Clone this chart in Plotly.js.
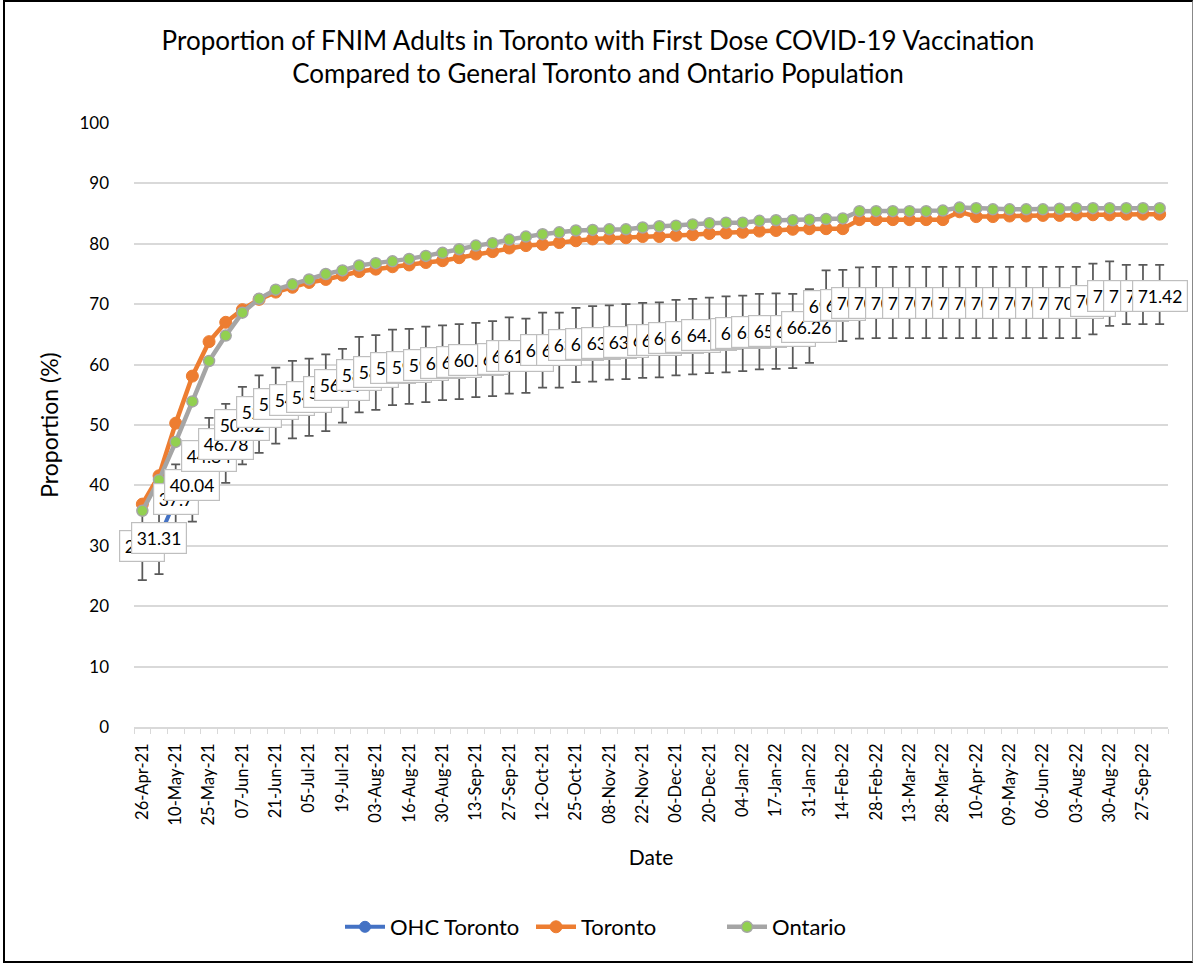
<!DOCTYPE html>
<html>
<head>
<meta charset="utf-8">
<script src="https://cdn.plot.ly/plotly-3.0.1.min.js"></script>
<style>
  html, body { margin: 0; padding: 0; background: #ffffff; }
  #wrap { position: relative; width: 1196px; height: 965px; }
  #chart { position: absolute; left: 0; top: 0; width: 1196px; height: 965px; }
  #frame { position: absolute; left: 3px; top: 0px; width: 1190px; height: 963px;
           border-top: 2px solid #000; border-left: 2px solid #000; border-bottom: 2px solid #000;
           border-right: 1px solid #888; box-sizing: border-box; pointer-events: none; }
</style>
</head>
<body>
<div id="wrap"><div id="chart"></div><div id="frame"></div></div>
<script>
// Dates (every other one is shown as a tick label)
const categories = [
  "26-Apr-21","03-May-21","10-May-21","17-May-21","25-May-21","31-May-21","07-Jun-21","14-Jun-21",
  "21-Jun-21","28-Jun-21","05-Jul-21","12-Jul-21","19-Jul-21","26-Jul-21","03-Aug-21","09-Aug-21",
  "16-Aug-21","23-Aug-21","30-Aug-21","07-Sep-21","13-Sep-21","20-Sep-21","27-Sep-21","04-Oct-21",
  "12-Oct-21","18-Oct-21","25-Oct-21","01-Nov-21","08-Nov-21","15-Nov-21","22-Nov-21","29-Nov-21",
  "06-Dec-21","13-Dec-21","20-Dec-21","29-Dec-21","04-Jan-22","10-Jan-22","17-Jan-22","24-Jan-22",
  "31-Jan-22","07-Feb-22","14-Feb-22","22-Feb-22","28-Feb-22","07-Mar-22","13-Mar-22","21-Mar-22",
  "28-Mar-22","04-Apr-22","10-Apr-22","25-Apr-22","09-May-22","23-May-22","06-Jun-22","04-Jul-22",
  "03-Aug-22","16-Aug-22","30-Aug-22","13-Sep-22","27-Sep-22","11-Oct-22"
];

// OHC Toronto (FNIM adults) first-dose proportion (%)
const ohcToronto = [
  29.9, 31.31, 37.7, 40.04, 44.84, 46.78, 50.02, 52.1, 53.4, 54.2,
  54.7, 55.4, 56.57, 58.3, 58.7, 59.4, 59.6, 59.9, 60.3, 60.5,
  60.75, 61.0, 61.5, 61.45, 62.4, 62.4, 63.25, 63.45, 63.65, 63.8,
  64.0, 64.1, 64.45, 64.65, 64.85, 65.0, 65.15, 65.45, 65.55, 65.6,
  66.26, 69.7, 69.8, 70.15, 70.25, 70.25, 70.25, 70.25, 70.25, 70.25,
  70.25, 70.25, 70.25, 70.25, 70.25, 70.25, 70.25, 70.6, 71.3, 71.4,
  71.4, 71.42
];
// Upper and lower bounds of the OHC Toronto error bars (%)
const ohcUpper = [
  35.5, 37.0, 43.5, 46.2, 51.2, 53.5, 56.3, 58.2, 59.5, 60.6,
  61.0, 61.7, 62.6, 64.6, 64.9, 65.8, 65.9, 66.3, 66.5, 66.7,
  66.9, 67.2, 67.8, 67.6, 68.6, 68.6, 69.4, 69.7, 69.8, 70.0,
  70.2, 70.3, 70.7, 70.9, 71.1, 71.3, 71.4, 71.7, 71.8, 71.7,
  72.5, 75.6, 75.7, 76.1, 76.2, 76.2, 76.2, 76.2, 76.2, 76.2,
  76.2, 76.2, 76.2, 76.2, 76.2, 76.2, 76.2, 76.7, 77.1, 76.5,
  76.5, 76.5
];
const ohcLower = [
  24.3, 25.3, 32.3, 34.0, 38.5, 40.4, 43.5, 45.4, 46.9, 47.8,
  48.2, 49.0, 50.4, 52.1, 52.5, 53.3, 53.5, 53.8, 54.1, 54.3,
  54.6, 54.8, 55.2, 55.3, 56.2, 56.2, 57.1, 57.2, 57.5, 57.6,
  57.8, 57.9, 58.2, 58.4, 58.6, 58.7, 58.9, 59.2, 59.3, 59.4,
  60.3, 63.9, 63.9, 64.3, 64.4, 64.4, 64.4, 64.4, 64.4, 64.4,
  64.4, 64.4, 64.4, 64.4, 64.4, 64.4, 64.4, 65.0, 66.4, 66.7,
  66.7, 66.7
];

// General Toronto population (%)
const toronto = [
  36.9, 41.6, 50.3, 58.1, 63.8, 67.0, 69.1, 70.8, 72.0, 72.8,
  73.6, 74.1, 74.8, 75.4, 75.8, 76.2, 76.5, 76.9, 77.2, 77.7,
  78.3, 78.7, 79.3, 79.7, 79.9, 80.2, 80.5, 80.8, 80.9, 81.0,
  81.2, 81.2, 81.4, 81.5, 81.7, 81.8, 81.9, 82.1, 82.2, 82.4,
  82.5, 82.5, 82.5, 84.0, 84.0, 84.0, 84.0, 84.0, 84.0, 85.3,
  84.5, 84.5, 84.6, 84.6, 84.7, 84.7, 84.8, 84.8, 84.8, 84.9,
  84.9, 84.9
];

// Ontario population (%)
const ontario = [
  35.8, 40.9, 47.2, 53.9, 60.6, 64.8, 68.6, 70.9, 72.4, 73.3,
  74.1, 75.0, 75.6, 76.4, 76.8, 77.1, 77.5, 78.0, 78.5, 79.1,
  79.7, 80.1, 80.7, 81.2, 81.6, 81.9, 82.2, 82.3, 82.4, 82.4,
  82.7, 82.9, 83.0, 83.2, 83.4, 83.5, 83.5, 83.8, 83.9, 83.9,
  84.0, 84.1, 84.2, 85.4, 85.4, 85.4, 85.4, 85.4, 85.5, 86.0,
  85.9, 85.7, 85.7, 85.7, 85.7, 85.8, 85.9, 85.9, 85.9, 85.9,
  85.9, 85.9
];

const seriesNames = ["OHC Toronto", "Toronto", "Ontario"];
const yTicks = [0, 10, 20, 30, 40, 50, 60, 70, 80, 90, 100];

const FONT = "Lato, 'Open Sans', sans-serif";
const xIdx = categories.map((_, i) => i);
const tickIdx = xIdx.filter(i => i % 2 === 0);
const tickText = tickIdx.map(i => categories[i]);

const traces = [
  {
    type: "scatter", mode: "lines+markers", name: seriesNames[0],
    x: xIdx, y: ohcToronto, text: categories,
    hovertemplate: "%{text}: %{y}<extra>OHC Toronto</extra>",
    line: { color: "#4472C4", width: 4 },
    marker: { color: "#4472C4", size: 11, line: { color: "#4472C4", width: 1 } },
    error_y: {
      type: "data", symmetric: false,
      array: ohcUpper.map((u, i) => +(u - ohcToronto[i]).toFixed(2)),
      arrayminus: ohcLower.map((l, i) => +(ohcToronto[i] - l).toFixed(2)),
      color: "#595959", thickness: 1.75, width: 4.5
    }
  },
  {
    type: "scatter", mode: "lines+markers", name: seriesNames[1],
    x: xIdx, y: toronto, text: categories,
    hovertemplate: "%{text}: %{y}<extra>Toronto</extra>",
    line: { color: "#ED7D31", width: 4.5 },
    marker: { color: "#ED7D31", size: 12, line: { color: "#ED7D31", width: 1 } }
  },
  {
    type: "scatter", mode: "lines+markers", name: seriesNames[2],
    x: xIdx, y: ontario, text: categories,
    hovertemplate: "%{text}: %{y}<extra>Ontario</extra>",
    line: { color: "#A5A5A5", width: 4.5 },
    marker: { color: "#92D050", size: 11, line: { color: "#A5A5A5", width: 1.5 } }
  }
];

const labels = ohcToronto.map((v, i) => ({
  x: xIdx[i], y: v, xref: "x", yref: "y",
  text: String(v), showarrow: false,
  font: { family: FONT, size: 17.5, color: "#000000" },
  bgcolor: "#ffffff", bordercolor: "#BFBFBF", borderwidth: 1.2, borderpad: 4.5,
  xanchor: "center", yanchor: "middle"
}));

const layout = {
  width: 1196, height: 965,
  paper_bgcolor: "#ffffff", plot_bgcolor: "#ffffff",
  font: { family: FONT, color: "#000000" },
  margin: { l: 134, r: 28, t: 123, b: 238 },
  title: {
    text: "Proportion of FNIM Adults in Toronto with First Dose COVID-19 Vaccination<br>Compared to General Toronto and Ontario Population",
    font: { family: FONT, size: 26, color: "#000000" },
    x: 0.5, xref: "container", xanchor: "center",
    y: 1 - 49.5 / 965, yref: "container", yanchor: "middle"
  },
  showlegend: true,
  legend: {
    orientation: "h", xref: "container", yref: "container",
    x: 340 / 1196, xanchor: "left", y: 1 - 927 / 965, yanchor: "middle",
    font: { family: FONT, size: 22, color: "#000000" },
    itemwidth: 40, entrywidth: 136, entrywidthmode: "pixels", traceorder: "normal"
  },
  xaxis: {
    range: [-0.5, xIdx.length - 0.5],
    tickmode: "array", tickvals: tickIdx, ticktext: tickText,
    tickangle: -90, ticks: "", ticklabelstandoff: 8,
    tickfont: { family: FONT, size: 16.5, color: "#000000" },
    showgrid: false, zeroline: false,
    showline: true, linecolor: "#D9D9D9", linewidth: 1.5,
    minor: { ticks: "outside", tickmode: "linear", tick0: -0.5, dtick: 1, ticklen: 5, tickcolor: "#D9D9D9", tickwidth: 1, showgrid: false },
    title: { text: "Date", font: { family: FONT, size: 21, color: "#000000" }, standoff: 26 },
    automargin: false
  },
  yaxis: {
    range: [0, 100], tickmode: "array", tickvals: yTicks,
    ticks: "", ticklabelstandoff: 24,
    tickfont: { family: FONT, size: 17, color: "#000000" },
    showgrid: true, gridcolor: "#D9D9D9", gridwidth: 1.5,
    zeroline: false, showline: false,
    title: { text: "Proportion (%)", font: { family: FONT, size: 23, color: "#000000" }, standoff: 14 },
    automargin: false
  },
  annotations: labels,
  hovermode: "closest"
};

Plotly.newPlot("chart", traces, layout, { displayModeBar: false, staticPlot: false });
</script>
</body>
</html>
